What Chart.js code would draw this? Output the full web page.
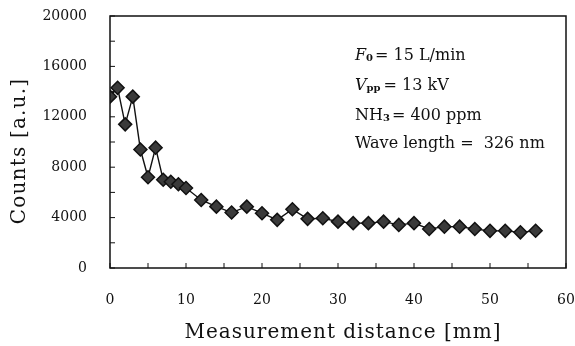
<!DOCTYPE html>
<html>
<head>
<meta charset="utf-8">
<script src="https://cdn.jsdelivr.net/npm/chart.js@4/dist/chart.umd.min.js"></script>
<style>
  html, body { margin: 0; padding: 0; background: #fff; }
  #wrap { width: 575px; height: 346px; }
</style>
</head>
<body>
<div id="wrap"><canvas id="chart" width="575" height="346"></canvas></div>
<script>
// distance [mm]
const distances = [0, 1, 2, 3, 4, 5, 6, 7, 8, 9, 10, 12, 14, 16, 18, 20, 22, 24, 26, 28,
  30, 32, 34, 36, 38, 40, 42, 44, 46, 48, 50, 52, 54, 56];
// counts [a.u.]
const counts = [13600, 14300, 11400, 13600, 9400, 7200, 9550, 7000, 6850, 6650, 6350, 5400,
  4870, 4400, 4870, 4350, 3820, 4660, 3900, 3950, 3680, 3560, 3560, 3680, 3420, 3560,
  3100, 3280, 3280, 3100, 2950, 2950, 2830, 2960];
const xTickLabels = [0, 10, 20, 30, 40, 50, 60];
const yTickLabels = [0, 4000, 8000, 12000, 16000, 20000];
const xTitle = 'Measurement distance [mm]';
const yTitle = 'Counts [a.u.]';

const SERIF = '"DejaVu Serif", "Liberation Serif", serif';

// frame, inward ticks, axis titles and the parameter box
const framePlugin = {
  id: 'frame',
  afterDraw(chart) {
    const { ctx, chartArea: a, scales } = chart;
    ctx.save();
    ctx.strokeStyle = '#111';
    ctx.lineWidth = 1.5;
    ctx.strokeRect(a.left, a.top, a.right - a.left, a.bottom - a.top);

    ctx.lineWidth = 1;
    scales.x.ticks.forEach(t => {
      const px = scales.x.getPixelForValue(t.value);
      ctx.beginPath();
      ctx.moveTo(px, a.bottom);
      ctx.lineTo(px, a.bottom - 5);
      ctx.stroke();
    });
    scales.y.ticks.forEach(t => {
      const py = scales.y.getPixelForValue(t.value);
      ctx.beginPath();
      ctx.moveTo(a.left, py);
      ctx.lineTo(a.left + 5, py);
      ctx.stroke();
    });

    ctx.fillStyle = '#111';

    // axis titles
    ctx.letterSpacing = '1px';
    ctx.font = `20px ${SERIF}`;
    ctx.textAlign = 'center';
    ctx.textBaseline = 'middle';
    ctx.fillText(xTitle, (a.left + a.right) / 2 + 5, 333);
    ctx.save();
    ctx.translate(20, (a.top + a.bottom) / 2 + 9);
    ctx.rotate(-Math.PI / 2);
    ctx.letterSpacing = '1.2px';
    ctx.font = `20px ${SERIF}`;
    ctx.fillText(yTitle, 0, 0);
    ctx.restore();

    // annotation text
    ctx.letterSpacing = '0px';
    ctx.textAlign = 'left';
    ctx.textBaseline = 'alphabetic';
    const x0 = 355;
    const fs = 16;
    const sub = 10;
    let y = 60;
    let w;
    // F0
    ctx.font = `italic ${fs}px ${SERIF}`;
    ctx.fillText('F', x0, y);
    w = ctx.measureText('F').width;
    ctx.font = `bold ${sub}px ${SERIF}`;
    ctx.fillText('0', x0 + w, y + 1);
    w += ctx.measureText('0').width;
    ctx.font = `${fs}px ${SERIF}`;
    ctx.fillText('= 15 L/min', x0 + w + 2, y);
    // Vpp
    y = 90;
    ctx.font = `italic ${fs}px ${SERIF}`;
    ctx.fillText('V', x0, y);
    w = ctx.measureText('V').width;
    ctx.font = `bold ${sub}px ${SERIF}`;
    ctx.fillText('pp', x0 + w, y + 1);
    w += ctx.measureText('pp').width;
    ctx.font = `${fs}px ${SERIF}`;
    ctx.fillText('= 13 kV', x0 + w + 3, y);
    // NH3
    y = 120;
    ctx.fillText('NH', x0, y);
    w = ctx.measureText('NH').width;
    ctx.font = `bold ${sub}px ${SERIF}`;
    ctx.fillText('3', x0 + w, y + 1);
    w += ctx.measureText('3').width;
    ctx.font = `${fs}px ${SERIF}`;
    ctx.fillText('= 400 ppm', x0 + w + 2, y);
    // wavelength
    y = 148;
    ctx.fillText('Wave length =  326 nm', x0, y);
    ctx.restore();
  }
};

new Chart(document.getElementById('chart'), {
  type: 'line',
  data: {
    datasets: [{
      data: distances.map((d, i) => ({ x: d, y: counts[i] })),
      borderColor: '#111',
      borderWidth: 1.4,
      pointStyle: 'rectRot',
      pointRadius: 6.5,
      pointBackgroundColor: '#3a3a3a',
      pointBorderColor: '#111',
      pointBorderWidth: 1.5,
      tension: 0
    }]
  },
  options: {
    responsive: false,
    animation: false,
    layout: { autoPadding: false, padding: { left: 0, right: 9, top: 16, bottom: 0 } },
    plugins: { legend: { display: false }, tooltip: { enabled: false } },
    scales: {
      x: {
        type: 'linear',
        min: 0,
        max: 60,
        afterFit(s) {
          s.height = 78;
          s.paddingLeft = 0;
          s.paddingRight = 0;
        },
        border: { display: false },
        grid: { display: false },
        ticks: {
          stepSize: 5,
          autoSkip: false,
          maxRotation: 0,
          padding: 16,
          color: '#111',
          font: { family: SERIF, size: 14 },
          callback: v => xTickLabels.includes(v) ? String(v) : ''
        }
      },
      y: {
        min: 0,
        max: 20000,
        afterFit(s) {
          s.width = 110;
          s.paddingTop = 0;
          s.paddingBottom = 0;
        },
        border: { display: false },
        grid: { display: false },
        ticks: {
          stepSize: 2000,
          autoSkip: false,
          padding: 15,
          color: '#111',
          font: { family: SERIF, size: 14 },
          callback: v => yTickLabels.includes(v) ? String(v) : ''
        }
      }
    }
  },
  plugins: [framePlugin]
});
</script>
</body>
</html>
